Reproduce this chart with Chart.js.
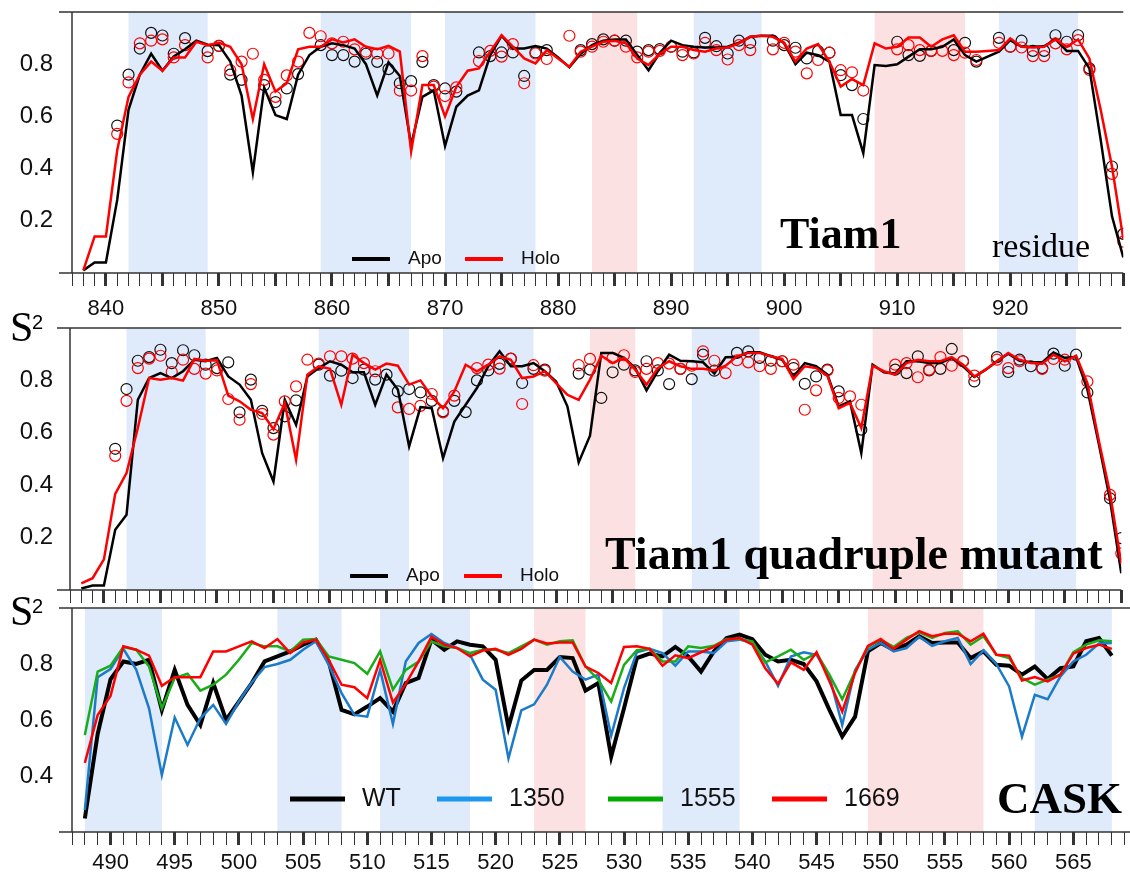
<!DOCTYPE html>
<html>
<head>
<meta charset="utf-8">
<title>S2 order parameters</title>
<script src="https://cdn.jsdelivr.net/npm/chart.js@4.4.1/dist/chart.umd.min.js"></script>
<style>
  html, body { margin: 0; padding: 0; background: #fff; overflow: hidden; }
  body { width: 1130px; height: 878px; position: relative; }
  canvas { position: absolute; }
  #tiam { left: 0; top: 0; }
  #quad { left: -2px; top: 300px; }
  #cask { left: 0; top: 590px; }
</style>
</head>
<body>
<canvas id="tiam" width="1130" height="330"></canvas>
<canvas id="quad" width="1130" height="310"></canvas>
<canvas id="cask" width="1140" height="288"></canvas>
<script>
function residues(first, last) {
  const r = [];
  for (let i = first; i <= last; i++) r.push(i);
  return r;
}

// residue numbers
const tiamRes = residues(838, 930);
const tiamExpRes = residues(841, 930);
const caskRes = residues(488, 568);

// Tiam1 wild type, S2 per residue (838..930)
const tiamApo = [
  0.01, 0.04, 0.04, 0.28, 0.625, 0.76, 0.84, 0.775, 0.83, 0.857,
  0.89, 0.875, 0.873, 0.81, 0.68, 0.386, 0.71, 0.605, 0.59, 0.76,
  0.835, 0.867, 0.88, 0.873, 0.86, 0.80, 0.68, 0.807, 0.755, 0.49,
  0.675, 0.70, 0.487, 0.637, 0.68, 0.70, 0.835, 0.909, 0.86, 0.86,
  0.87, 0.86, 0.826, 0.788, 0.84, 0.873, 0.89, 0.895, 0.895, 0.835,
  0.777, 0.844, 0.89, 0.873, 0.867, 0.864, 0.864, 0.867, 0.882, 0.905,
  0.909, 0.909, 0.88, 0.80, 0.844, 0.835, 0.81, 0.605, 0.605, 0.459,
  0.797, 0.793, 0.80, 0.829, 0.857, 0.857, 0.867, 0.895, 0.835, 0.81,
  0.829, 0.848, 0.892, 0.867, 0.867, 0.869, 0.896, 0.851, 0.851, 0.784,
  0.51, 0.217, 0.06
];
const tiamHolo = [
  0.01, 0.14, 0.14, 0.47, 0.675, 0.76, 0.81, 0.775, 0.826, 0.826,
  0.886, 0.873, 0.882, 0.867, 0.80, 0.59, 0.80, 0.695, 0.727, 0.857,
  0.867, 0.867, 0.895, 0.883, 0.895, 0.867, 0.857, 0.87, 0.848, 0.465,
  0.72, 0.72, 0.60, 0.713, 0.775, 0.784, 0.848, 0.911, 0.867, 0.822,
  0.803, 0.854, 0.822, 0.79, 0.848, 0.867, 0.886, 0.89, 0.88, 0.822,
  0.797, 0.84, 0.867, 0.867, 0.854, 0.848, 0.86, 0.864, 0.88, 0.905,
  0.909, 0.905, 0.882, 0.81, 0.86, 0.877, 0.81, 0.714, 0.743, 0.72,
  0.88, 0.86, 0.867, 0.902, 0.902, 0.867, 0.895, 0.911, 0.848, 0.848,
  0.851, 0.854, 0.899, 0.867, 0.864, 0.867, 0.895, 0.867, 0.895, 0.822,
  0.625, 0.408, 0.13
];
// measured values (841..930), null where missing
const tiamApoExp = [
  0.565, 0.76, 0.86, 0.92, 0.91, 0.84, 0.90, null, 0.85, 0.87,
  0.76, 0.74, null, 0.72, 0.655, 0.707, 0.762, null, 0.873, 0.835,
  0.835, 0.81, 0.84, 0.809, 0.781, 0.727, 0.735, 0.809, 0.72, 0.707,
  0.695, null, 0.845, 0.831, 0.845, 0.845, 0.755, 0.845, 0.854, null,
  null, 0.854, 0.877, 0.895, 0.89, 0.89, 0.848, 0.854, 0.858, 0.867,
  0.848, 0.845, 0.901, 0.869, 0.841, 0.89, 0.882, null, 0.89, 0.873,
  0.863, 0.822, 0.85, 0.844, 0.758, 0.72, 0.59, null, null, 0.886,
  0.835, 0.832, 0.851, null, 0.854, 0.882, 0.81, null, 0.901, 0.867,
  0.89, 0.851, 0.851, 0.911, 0.886, 0.911, 0.784, null, 0.408, 0.15
];
const tiamHoloExp = [
  0.533, 0.73, 0.88, 0.89, 0.895, 0.826, 0.873, null, 0.826, 0.87,
  0.777, 0.81, 0.84, 0.74, 0.675, 0.757, 0.81, 0.92, 0.907, 0.88,
  0.886, 0.857, 0.848, 0.841, 0.841, 0.699, 0.699, 0.831, 0.714, 0.678,
  0.711, null, 0.812, 0.851, 0.829, 0.877, 0.727, 0.841, 0.82, null,
  0.909, 0.848, 0.867, 0.886, 0.89, 0.867, 0.826, 0.848, 0.851, 0.867,
  0.835, 0.841, 0.882, 0.854, 0.818, 0.873, 0.854, null, 0.857, 0.882,
  0.848, 0.765, 0.816, 0.844, 0.777, 0.769, 0.699, null, null, 0.857,
  0.873, 0.854, 0.851, 0.851, 0.835, 0.844, 0.816, null, 0.882, 0.867,
  0.864, 0.831, 0.831, 0.88, 0.857, 0.892, 0.778, null, 0.38, 0.12
];

// Tiam1 quadruple mutant
const quadApo = [
  0.006, 0.017, 0.017, 0.23, 0.287, 0.726, 0.809, 0.828, 0.809, 0.835,
  0.879, 0.873, 0.886, 0.815, 0.784, 0.726, 0.522, 0.414, 0.726, 0.63,
  0.815, 0.847, 0.873, 0.86, 0.831, 0.831, 0.707, 0.822, 0.765, 0.548,
  0.698, 0.694, 0.503, 0.643, 0.707, 0.771, 0.854, 0.911, 0.854, 0.854,
  0.866, 0.835, 0.796, 0.701, 0.487, 0.589, 0.905, 0.905, 0.886, 0.847,
  0.762, 0.835, 0.898, 0.875, 0.873, 0.869, 0.826, 0.888, 0.889, 0.907,
  0.907, 0.892, 0.879, 0.815, 0.866, 0.854, 0.822, 0.701, 0.72, 0.522,
  0.86, 0.831, 0.826, 0.873, 0.873, 0.866, 0.866, 0.886, 0.854, 0.813,
  0.841, 0.873, 0.902, 0.875, 0.869, 0.869, 0.907, 0.886, 0.889, 0.765,
  0.56, 0.344, 0.064
];
const quadHolo = [
  0.025, 0.045, 0.117, 0.367, 0.446, 0.618, 0.809, 0.803, 0.809, 0.799,
  0.882, 0.875, 0.877, 0.742, 0.72, 0.688, 0.675, 0.614, 0.714, 0.497,
  0.822, 0.854, 0.844, 0.707, 0.898, 0.866, 0.841, 0.864, 0.856, 0.784,
  0.80, 0.739, 0.694, 0.758, 0.86, 0.835, 0.86, 0.892, 0.879, 0.809,
  0.815, 0.835, 0.79, 0.745, 0.726, 0.803, 0.894, 0.866, 0.886, 0.841,
  0.784, 0.847, 0.873, 0.854, 0.844, 0.844, 0.838, 0.856, 0.892, 0.905,
  0.905, 0.892, 0.882, 0.805, 0.854, 0.847, 0.818, 0.694, 0.714, 0.618,
  0.856, 0.835, 0.822, 0.866, 0.879, 0.873, 0.873, 0.889, 0.86, 0.815,
  0.841, 0.873, 0.905, 0.879, 0.866, 0.864, 0.898, 0.873, 0.894, 0.79,
  0.573, 0.37, 0.10
];
const quadApoExp = [
  0.539, 0.767, 0.875, 0.889, 0.917, 0.866, 0.915, 0.896, 0.86, 0.847,
  0.869, 0.678, 0.803, 0.684, 0.618, 0.663, 0.724, null, 0.86, 0.818,
  0.837, 0.809, 0.841, 0.803, 0.822, 0.758, 0.767, 0.754, 0.722, 0.682,
  0.722, 0.679, 0.80, 0.838, 0.863, 0.883, 0.79, 0.844, 0.841, null,
  null, 0.826, 0.841, 0.733, 0.831, 0.86, 0.838, 0.873, 0.838, 0.786,
  0.844, 0.805, 0.898, 0.837, null, 0.905, 0.911, 0.886, 0.875, 0.873,
  0.847, 0.787, 0.815, 0.841, 0.758, null, 0.612, null, null, 0.841,
  0.828, 0.892, 0.838, 0.844, 0.92, 0.873, 0.796, null, 0.889, 0.832,
  0.879, 0.854, 0.847, 0.902, 0.856, 0.898, 0.754, null, 0.35, 0.198
];
const quadHoloExp = [
  0.512, 0.722, 0.847, 0.883, 0.894, 0.832, 0.879, 0.844, 0.826, 0.838,
  0.729, 0.65, 0.786, 0.672, 0.593, 0.72, 0.777, 0.879, 0.864, 0.892,
  0.892, 0.883, 0.866, 0.835, null, 0.697, 0.691, 0.703, 0.748, 0.678,
  0.742, null, 0.847, 0.86, 0.845, 0.882, 0.71, 0.858, 0.837, null,
  null, 0.858, 0.882, null, 0.886, 0.896, 0.832, 0.844, 0.866, 0.864,
  0.844, 0.856, 0.911, 0.875, 0.828, 0.877, 0.869, 0.854, 0.844, 0.873,
  0.86, 0.688, 0.762, 0.838, 0.733, 0.739, 0.707, null, null, 0.86,
  0.866, 0.812, 0.841, 0.889, 0.856, 0.873, 0.818, null, 0.879, 0.847,
  0.873, null, 0.844, 0.882, 0.879, null, 0.796, null, 0.363, 0.14
];

// CASK (488..568)
const caskWT = [
  0.248, 0.55, 0.745, 0.809, 0.80, 0.815, 0.636, 0.779, 0.654, 0.582,
  0.732, 0.60, 0.666, 0.732, 0.809, 0.827, 0.845, 0.869, 0.887, 0.809,
  0.636, 0.62, 0.648, 0.678, 0.63, 0.732, 0.75, 0.887, 0.851, 0.881,
  0.869, 0.863, 0.815, 0.574, 0.741, 0.779, 0.779, 0.825, 0.821, 0.705,
  0.732, 0.469, 0.642, 0.821, 0.837, 0.827, 0.861, 0.827, 0.773, 0.845,
  0.893, 0.905, 0.889, 0.833, 0.809, 0.815, 0.80, 0.738, 0.636, 0.541,
  0.612, 0.845, 0.875, 0.851, 0.869, 0.899, 0.875, 0.877, 0.877, 0.821,
  0.845, 0.797, 0.794, 0.762, 0.791, 0.746, 0.785, 0.791, 0.881, 0.893,
  0.83
];
const cask1350 = [
  0.278, 0.753, 0.782, 0.854, 0.78, 0.642, 0.403, 0.609, 0.511, 0.606,
  0.654, 0.586, 0.666, 0.734, 0.789, 0.80, 0.815, 0.851, 0.881, 0.797,
  0.696, 0.618, 0.612, 0.779, 0.586, 0.809, 0.875, 0.907, 0.875, 0.857,
  0.833, 0.744, 0.708, 0.463, 0.634, 0.656, 0.726, 0.825, 0.773, 0.744,
  0.762, 0.544, 0.714, 0.842, 0.854, 0.839, 0.794, 0.845, 0.845, 0.839,
  0.881, 0.887, 0.875, 0.809, 0.722, 0.827, 0.842, 0.833, 0.756, 0.582,
  0.779, 0.851, 0.875, 0.845, 0.857, 0.897, 0.865, 0.881, 0.893, 0.80,
  0.849, 0.80, 0.72, 0.541, 0.69, 0.674, 0.756, 0.809, 0.833, 0.873,
  0.875
];
const cask1555 = [
  0.546, 0.773, 0.794, 0.861, 0.851, 0.791, 0.642, 0.75, 0.765, 0.705,
  0.726, 0.762, 0.815, 0.875, 0.863, 0.863, 0.845, 0.887, 0.889, 0.827,
  0.815, 0.803, 0.765, 0.845, 0.708, 0.779, 0.809, 0.881, 0.863, 0.857,
  0.839, 0.851, 0.851, 0.839, 0.863, 0.887, 0.869, 0.881, 0.885, 0.791,
  0.744, 0.666, 0.797, 0.849, 0.854, 0.809, 0.809, 0.863, 0.857, 0.865,
  0.889, 0.889, 0.881, 0.806, 0.827, 0.851, 0.815, 0.839, 0.762, 0.674,
  0.773, 0.861, 0.887, 0.861, 0.893, 0.913, 0.893, 0.911, 0.917, 0.869,
  0.899, 0.833, 0.821, 0.75, 0.726, 0.744, 0.762, 0.842, 0.869, 0.885,
  0.881
];
const cask1669 = [
  0.447, 0.618, 0.686, 0.863, 0.851, 0.83, 0.722, 0.753, 0.753, 0.753,
  0.845, 0.845, 0.863, 0.881, 0.857, 0.889, 0.839, 0.877, 0.887, 0.815,
  0.726, 0.717, 0.678, 0.815, 0.662, 0.729, 0.809, 0.897, 0.869, 0.857,
  0.827, 0.848, 0.854, 0.833, 0.854, 0.887, 0.873, 0.877, 0.877, 0.791,
  0.768, 0.732, 0.861, 0.863, 0.854, 0.794, 0.831, 0.821, 0.842, 0.861,
  0.887, 0.893, 0.869, 0.785, 0.729, 0.806, 0.779, 0.842, 0.738, 0.63,
  0.768, 0.865, 0.889, 0.854, 0.887, 0.917, 0.899, 0.908, 0.908, 0.881,
  0.908, 0.833, 0.83, 0.741, 0.753, 0.738, 0.762, 0.837, 0.857, 0.869,
  0.854
];

// shaded residue ranges
const tiamBlue = [[842, 849], [859, 867], [870, 878], [892, 898], [919, 926]];
const tiamPink = [[883, 887], [908, 916]];
const caskBlue = [[488, 494], [503, 508], [511, 518], [533, 539], [562, 568]];
const caskPink = [[523, 527], [549, 558]];

const sTicks = [0.2, 0.4, 0.6, 0.8];
const caskSTicks = [0.4, 0.6, 0.8];

Chart.defaults.font.family = "'Liberation Sans', Arial, sans-serif";

function pairs(xs, ys) {
  return xs.map((x, i) => ({ x: x, y: ys[i] }));
}

function bandsPlugin(blue, pink) {
  return {
    id: 'bands',
    beforeDatasetsDraw(chart) {
      const { ctx, chartArea: a } = chart;
      const x = chart.scales.x;
      ctx.save();
      const fill = (list, color) => list.forEach(b => {
        const x0 = x.getPixelForValue(b[0]);
        const x1 = x.getPixelForValue(b[1]);
        ctx.fillStyle = color;
        ctx.fillRect(x0, a.top, x1 - x0, a.bottom - a.top);
      });
      fill(blue, 'rgb(223, 234, 251)');
      fill(pink, 'rgb(251, 225, 226)');
      ctx.restore();
    }
  };
}

const framePlugin = {
  id: 'frame',
  afterDatasetsDraw(chart) {
    const { ctx, chartArea: a } = chart;
    ctx.save();
    ctx.strokeStyle = '#333';
    ctx.lineWidth = 1.5;
    ctx.beginPath();
    ctx.moveTo(a.left - 13, a.top);
    ctx.lineTo(a.right, a.top);
    ctx.moveTo(a.left - 13, a.bottom);
    ctx.lineTo(a.right, a.bottom);
    ctx.moveTo(a.left, a.top);
    ctx.lineTo(a.left, a.bottom);
    ctx.stroke();
    ctx.restore();
  }
};

// legend drawn inside the plot area
function keyPlugin(opts) {
  return {
    id: 'key',
    afterDatasetsDraw(chart) {
      const ctx = chart.ctx;
      const items = chart.data.datasets.filter(d => d.inKey);
      ctx.save();
      ctx.font = opts.font;
      ctx.textBaseline = 'middle';
      items.forEach((d, i) => {
        const x = opts.xs[i];
        ctx.strokeStyle = d.keyColor || d.borderColor;
        ctx.lineWidth = opts.lineWidth;
        ctx.beginPath();
        ctx.moveTo(x, opts.y);
        ctx.lineTo(x + opts.lineLen, opts.y);
        ctx.stroke();
        ctx.fillStyle = '#111';
        ctx.fillText(d.label, x + opts.lineLen + opts.textGap, opts.y);
      });
      ctx.restore();
    }
  };
}

function textPlugin(items) {
  return {
    id: 'notes',
    afterDraw(chart) {
      const ctx = chart.ctx;
      ctx.save();
      ctx.fillStyle = '#000';
      ctx.textBaseline = 'alphabetic';
      items.forEach(t => {
        ctx.font = t.font;
        ctx.fillText(t.text, t.x, t.y);
      });
      ctx.restore();
    }
  };
}

function residueAxis(min, max, every, labels, pad, height) {
  return {
    type: 'linear',
    min: min,
    max: max,
    afterBuildTicks(scale) {
      scale.ticks = residues(min, max).map(v => ({ value: v }));
    },
    ticks: {
      autoSkip: false,
      maxRotation: 0,
      padding: pad,
      color: '#111',
      font: { size: 22 },
      callback: v => (labels && v % every === 0 && v < max ? String(v) : '')
    },
    grid: {
      drawOnChartArea: false,
      tickLength: 13,
      tickColor: '#333',
      tickWidth: ctx => (ctx.tick && ctx.tick.value % 5 === 0 ? 3 : 1)
    },
    border: { display: false },
    afterFit(scale) {
      scale.height = height;
      scale.paddingLeft = 0;
      scale.paddingRight = 0;
    }
  };
}

function valueAxis(min, max, values, pad) {
  return {
    min: min,
    max: max,
    afterBuildTicks(scale) {
      scale.ticks = values.map(v => ({ value: v }));
    },
    ticks: {
      padding: pad,
      color: '#111',
      font: { size: 24 },
      callback: v => v.toFixed(1)
    },
    grid: { display: false, drawTicks: false },
    border: { display: false },
    afterFit(scale) {
      scale.width = 72;
      scale.paddingTop = 0;
      scale.paddingBottom = 0;
    }
  };
}

function tiamDatasets(apo, holo, apoExp, holoExp) {
  return [
    { label: 'Apo', inKey: true, data: pairs(tiamRes, apo), showLine: true,
      borderColor: '#000', borderWidth: 2.5, pointRadius: 0, order: 1 },
    { label: 'Holo', inKey: true, data: pairs(tiamRes, holo), showLine: true,
      borderColor: '#ff0000', borderWidth: 2.5, pointRadius: 0, order: 0 },
    { label: 'Apo', data: pairs(tiamExpRes, apoExp), showLine: false,
      borderColor: '#111', backgroundColor: 'rgba(0,0,0,0)',
      pointRadius: 5.5, pointBorderWidth: 1.2, borderWidth: 1.2, order: 3 },
    { label: 'Holo', data: pairs(tiamExpRes, holoExp), showLine: false,
      borderColor: '#ff0000', backgroundColor: 'rgba(0,0,0,0)',
      pointRadius: 5.5, pointBorderWidth: 1.2, borderWidth: 1.2, order: 2 }
  ];
}

function baseOptions(x, y, padding) {
  return {
    responsive: false,
    maintainAspectRatio: false,
    devicePixelRatio: 1,
    animation: false,
    events: [],
    layout: { padding: padding },
    plugins: { legend: { display: false }, tooltip: { enabled: false } },
    scales: { x: x, y: y }
  };
}

const serifBold = "bold 44px 'Liberation Serif', 'Times New Roman', serif";

new Chart(document.getElementById('tiam'), {
  type: 'scatter',
  data: { datasets: tiamDatasets(tiamApo, tiamHolo, tiamApoExp, tiamHoloExp) },
  options: baseOptions(
    residueAxis(837, 930, 10, true, 10, 57),
    valueAxis(0, 1, sTicks, 19),
    { top: 12, right: 0, bottom: 0, left: 0 }
  ),
  plugins: [
    bandsPlugin(tiamBlue, tiamPink), framePlugin,
    keyPlugin({ xs: [352, 465], y: 259, lineLen: 38, textGap: 18, lineWidth: 4,
      font: "19px 'Liberation Sans', Arial, sans-serif" }),
    textPlugin([
      { text: 'Tiam1', x: 780, y: 248, font: serifBold },
      { text: 'residue', x: 992, y: 257, font: "34px 'Liberation Serif', 'Times New Roman', serif" }
    ])
  ]
});

new Chart(document.getElementById('quad'), {
  type: 'scatter',
  data: { datasets: tiamDatasets(quadApo, quadHolo, quadApoExp, quadHoloExp) },
  options: baseOptions(
    residueAxis(837, 930, 10, false, 0, 20),
    valueAxis(0, 1, sTicks, 17),
    { top: 28, right: 0, bottom: 0, left: 0 }
  ),
  plugins: [
    bandsPlugin(tiamBlue, tiamPink), framePlugin,
    keyPlugin({ xs: [352, 466], y: 276, lineLen: 38, textGap: 18, lineWidth: 4,
      font: "19px 'Liberation Sans', Arial, sans-serif" }),
    textPlugin([
      { text: 'Tiam1 quadruple mutant', x: 607, y: 269, font: "bold 46px 'Liberation Serif', 'Times New Roman', serif" },
      { text: 'S', x: 12, y: 41, font: "42px 'Liberation Serif', 'Times New Roman', serif" },
      { text: '2', x: 34, y: 29, font: "20px 'Liberation Sans', Arial, sans-serif" }
    ])
  ]
});

new Chart(document.getElementById('cask'), {
  type: 'scatter',
  data: {
    datasets: [
      { label: 'WT', inKey: true, data: pairs(caskRes, caskWT), showLine: true,
        borderColor: '#000', borderWidth: 4, pointRadius: 0, order: 3 },
      { label: '1350', inKey: true, data: pairs(caskRes, cask1350), showLine: true,
        borderColor: '#1b7bc8', keyColor: '#1c98ee', borderWidth: 2.5, pointRadius: 0, order: 2 },
      { label: '1555', inKey: true, data: pairs(caskRes, cask1555), showLine: true,
        borderColor: '#1aad1a', keyColor: '#00aa00', borderWidth: 2.5, pointRadius: 0, order: 1 },
      { label: '1669', inKey: true, data: pairs(caskRes, cask1669), showLine: true,
        borderColor: '#ff0000', borderWidth: 2.5, pointRadius: 0, order: 0 }
    ]
  },
  options: baseOptions(
    residueAxis(487, 570, 5, true, 5, 46),
    valueAxis(0.2, 1, caskSTicks, 19),
    { top: 18, right: 2.5, bottom: 0, left: 0 }
  ),
  plugins: [
    bandsPlugin(caskBlue, caskPink), framePlugin,
    keyPlugin({ xs: [290, 437, 608, 772], y: 209, lineLen: 55, textGap: 17, lineWidth: 5,
      font: "25px 'Liberation Sans', Arial, sans-serif" }),
    textPlugin([
      { text: 'CASK', x: 997, y: 223, font: "bold 45px 'Liberation Serif', 'Times New Roman', serif" },
      { text: 'S', x: 10, y: 35, font: "42px 'Liberation Serif', 'Times New Roman', serif" },
      { text: '2', x: 32, y: 23, font: "20px 'Liberation Sans', Arial, sans-serif" }
    ])
  ]
});
</script>
</body>
</html>
